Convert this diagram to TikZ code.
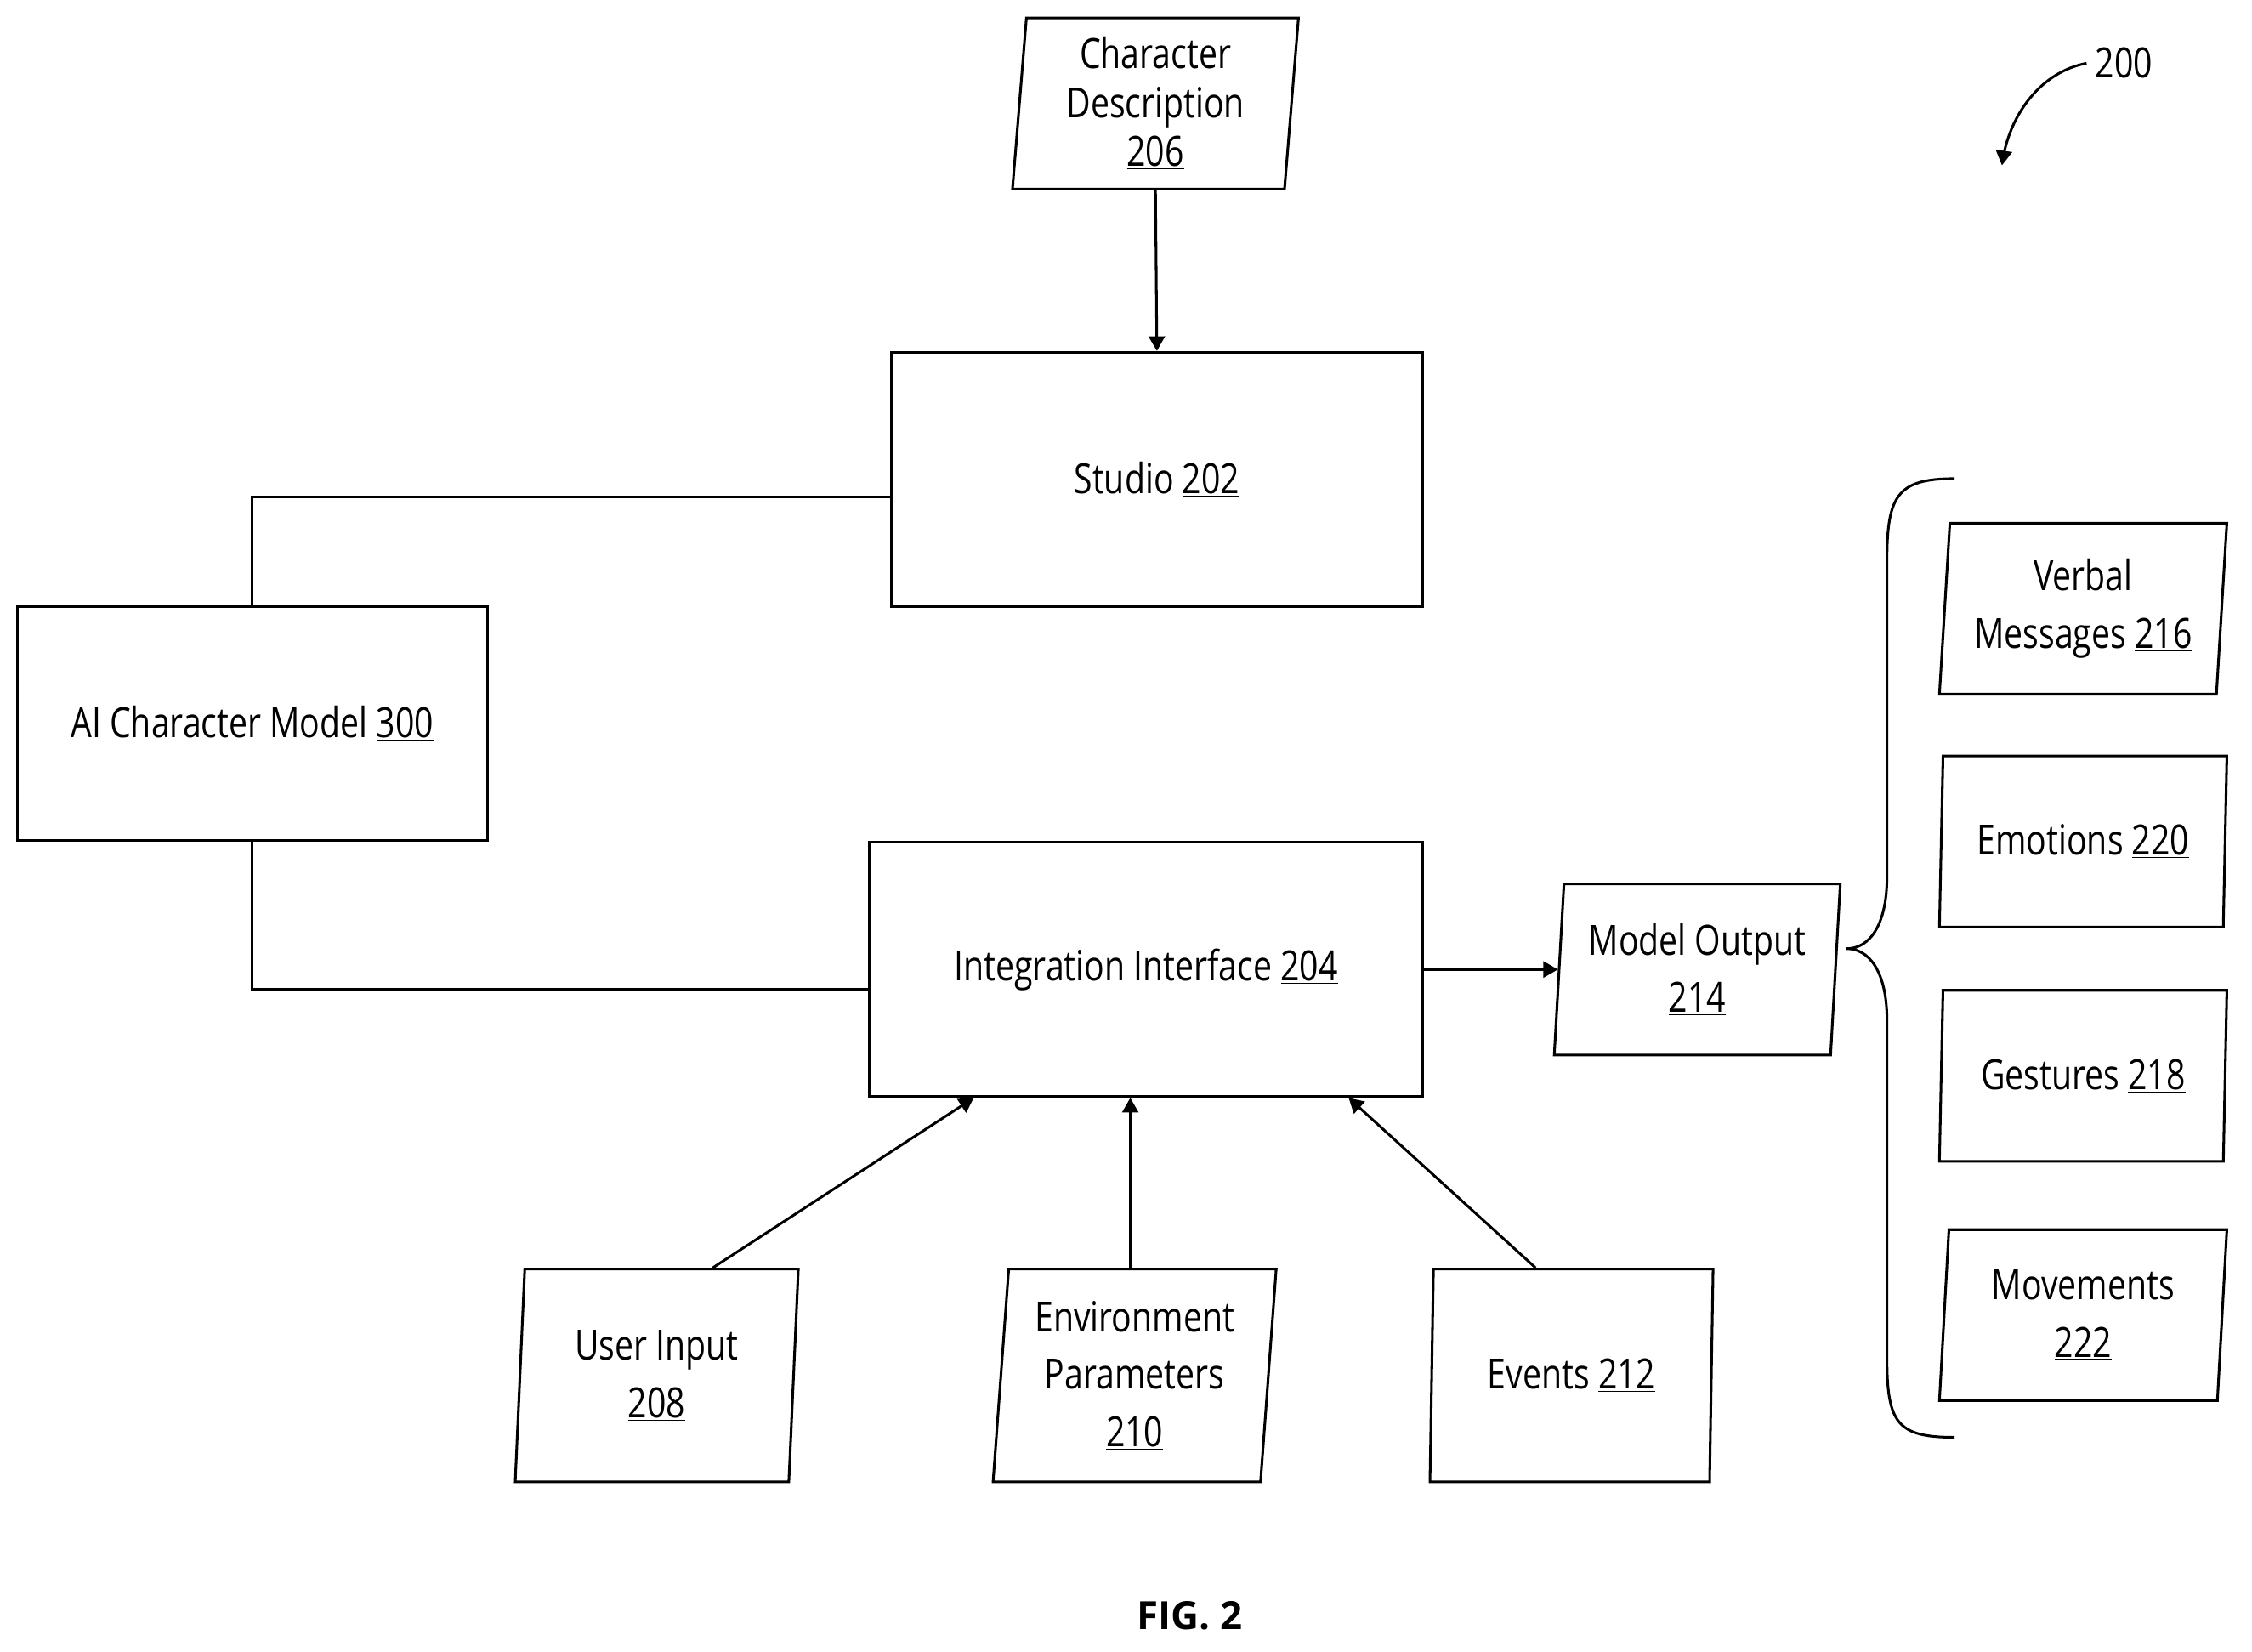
\documentclass[tikz,border=0pt]{standalone}
\usepackage{fontspec}
\setmainfont{Open Sans}
\usetikzlibrary{arrows,positioning,calc,shapes.geometric}
\begin{document}
\begin{tikzpicture}[x=1pt, y=-1pt, >=triangle 60, line width=1.8pt]
	\tikzstyle{box}=[draw=black, line width=1.8pt, rectangle, align=center, font=\fontsize{29}{40}\selectfont\addfontfeature{FakeStretch=0.8}]
	\tikzstyle{data}=[box, trapezium, trapezium left angle=84, trapezium right angle=96, trapezium stretches body, inner sep=0pt]
	\useasboundingbox (0,0) rectangle (1567,1149);
	% upper part
	\node[data, minimum width=199pt, minimum height=119pt] (desc) at (804,72) {Character\\[-6pt]Description\\[-6pt]\underline{206}};
	\node[box, minimum width=370pt, minimum height=177pt] (studio) at (805,333.5) {Studio \underline{202}};
	\node[box, minimum width=327pt, minimum height=163pt] (model) at (175.5,503.5) {AI Character Model \underline{300}};
	\node[box, minimum width=385pt, minimum height=177pt] (integ) at (797.5,674.5) {Integration Interface \underline{204}};
	\node[data, minimum width=199pt, minimum height=119pt] (output) at (1181,674.5) {Model Output\\\underline{214}};
	% inputs
	\node[data, minimum width=197pt, minimum height=148pt] (user) at (457,957) {User Input\\\underline{208}};
	\node[data, minimum width=197pt, minimum height=148pt] (env) at (789.5,957) {Environment\\Parameters\\\underline{210}};
	\node[data, minimum width=197pt, minimum height=148pt] (events) at (1093.5,957) {Events \underline{212}};
	% outputs
	\node[data, minimum width=200pt, minimum height=119pt] (verbal) at (1449.5,423.5) {Verbal\\Messages \underline{216}};
	\node[data, minimum width=200pt, minimum height=119pt] (emot) at (1449.5,585.5) {Emotions \underline{220}};
	\node[data, minimum width=200pt, minimum height=119pt] (gest) at (1449.5,748.5) {Gestures \underline{218}};
	\node[data, minimum width=200pt, minimum height=119pt] (move) at (1449.5,915) {Movements\\\underline{222}};
	\node[font=\fontsize{29}{34}\selectfont\addfontfeature{FakeStretch=0.8}] (ref) at (1478,44) {200};
	\node[font=\bfseries\fontsize{27}{30}\selectfont] (fig) at (828,1124) {FIG. 2};
	% connectors
	\draw[->] (desc.south) -- (studio.north);
	\draw (model.north) |- ([yshift=-12pt]studio.west);
	\draw (model.south) |- ([yshift=-14pt]integ.west);
	\draw[->] (integ.east) -- (output.west);
	\draw[->] ([xshift=-36pt]user.north east) -- ([xshift=-120pt]integ.south);
	\draw[->] ([xshift=-3pt]env.north) -- ([xshift=-11pt]integ.south);
	\draw[->] ([xshift=-25pt]events.north) -- ([xshift=141pt]integ.south);
	\draw[->] ([xshift=-2pt]ref.west) .. controls (1420,50) and (1398,80) .. (1393,115);
	\draw (1360,333) .. controls (1320,333) and (1313,345) .. (1313,390) -- (1313,610)
		.. controls (1313,645) and (1300,660) .. (1285,660)
		.. controls (1300,660) and (1313,675) .. (1313,710) -- (1313,945)
		.. controls (1313,990) and (1320,1000) .. (1360,1000);
\end{tikzpicture}
\end{document}
